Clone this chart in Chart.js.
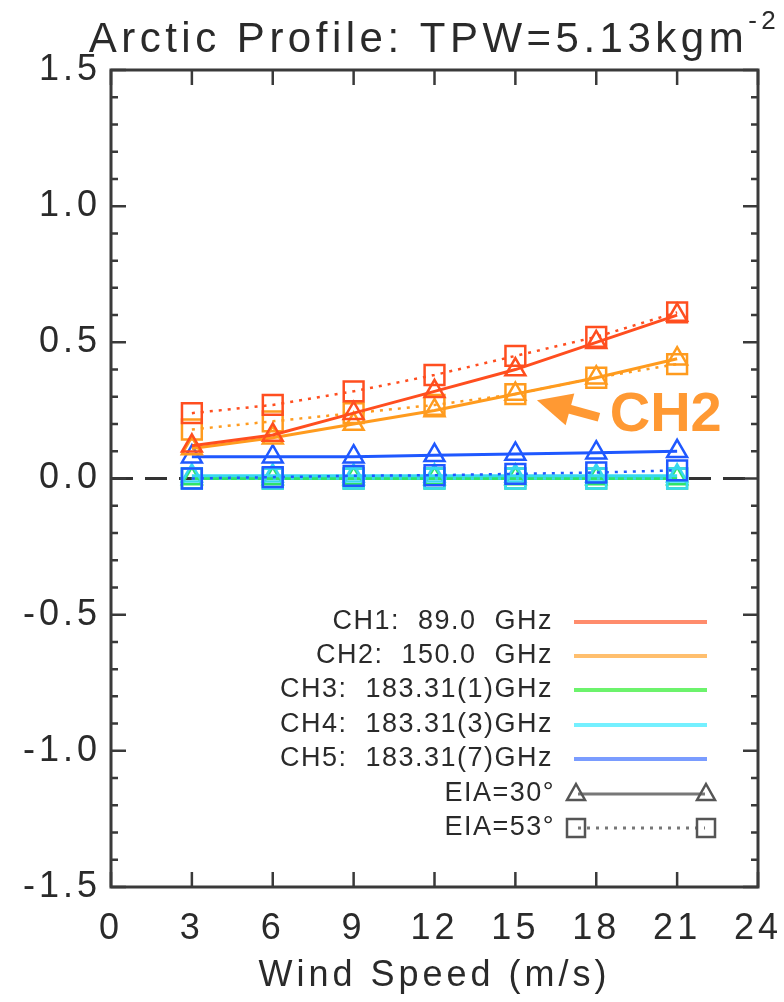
<!DOCTYPE html>
<html>
<head>
<meta charset="utf-8">
<script src="https://cdn.jsdelivr.net/npm/chart.js@4.4.0/dist/chart.umd.min.js"></script>
<style>
  html, body { margin: 0; padding: 0; background: #fff; }
  #wrap { width: 784px; height: 1002px; }
</style>
</head>
<body>
<div id="wrap"><canvas id="chart" width="784" height="1002"></canvas></div>
<script>
// wind speed (m/s) where the runs were made
const windSpeeds = [3, 6, 9, 12, 15, 18, 21];
const xTickValues = [0, 3, 6, 9, 12, 15, 18, 21, 24];

// EIA=30 deg (solid, triangles) / EIA=53 deg (dotted, squares)
const ch1Eia30 = [0.12, 0.16, 0.24, 0.32, 0.40, 0.50, 0.60];
const ch1Eia53 = [0.24, 0.27, 0.32, 0.38, 0.45, 0.52, 0.61];
const ch2Eia30 = [0.11, 0.15, 0.20, 0.25, 0.31, 0.37, 0.44];
const ch2Eia53 = [0.18, 0.21, 0.24, 0.27, 0.31, 0.37, 0.42];
const ch3Eia30 = [0.00, 0.00, 0.00, 0.00, 0.00, 0.00, 0.00];
const ch3Eia53 = [0.00, 0.00, 0.00, 0.00, 0.00, 0.00, 0.00];
const ch4Eia30 = [0.01, 0.01, 0.01, 0.01, 0.01, 0.01, 0.01];
const ch4Eia53 = [0.00, 0.00, 0.00, 0.00, 0.00, 0.00, 0.00];
const ch5Eia30 = [0.08, 0.08, 0.08, 0.085, 0.09, 0.095, 0.10];
const ch5Eia53 = [0.00, 0.005, 0.01, 0.012, 0.017, 0.022, 0.03];

const channelLabels = [
    'CH1:  89.0  GHz',
    'CH2:  150.0  GHz',
    'CH3:  183.31(1)GHz',
    'CH4:  183.31(3)GHz',
    'CH5:  183.31(7)GHz'
];
const eiaLabels = ['EIA=30°', 'EIA=53°'];

const channelColors = ['#ff4e1f', '#ff9b1e', '#2fe36a', '#38d8f0', '#1f58ff'];
const legendColors = ['#ff8c6c', '#ffbf6e', '#6cf36c', '#74f0ff', '#7a9cff'];

const TXT = '#2a2a2a';
const FONT = "'Liberation Sans', Arial, sans-serif";

document.addEventListener("DOMContentLoaded", () => {
    drawChart();
});

function points(values) {
    return windSpeeds.map((w, i) => ({ x: w, y: values[i] }));
}

function solidSet(values, color) {
    return {
        data: points(values),
        borderColor: color,
        borderWidth: 3,
        pointStyle: 'triangle',
        pointRadius: 11.5,
        pointBorderWidth: 2.5,
        pointBorderColor: color,
        pointBackgroundColor: 'rgba(255,255,255,0)',
        tension: 0
    };
}

function dottedSet(values, color) {
    return {
        data: points(values),
        borderColor: color,
        borderWidth: 2.5,
        borderDash: [3, 6],
        pointStyle: 'rect',
        pointRadius: 14,
        pointBorderWidth: 2.5,
        pointBorderColor: color,
        pointBackgroundColor: 'rgba(255,255,255,0)',
        tension: 0
    };
}

// IDL-like frame: box, inward ticks, dashed zero line
const framePlugin = {
    id: 'frame',
    beforeDraw(chart) {
        chart.ctx.letterSpacing = '4px';
    },
    beforeDatasetsDraw(chart) {
        const { ctx, chartArea: a, scales: { y } } = chart;
        ctx.letterSpacing = '0px';
        const y0 = y.getPixelForValue(0);
        ctx.save();
        ctx.strokeStyle = '#333';
        ctx.lineWidth = 3;
        ctx.setLineDash([22, 12]);
        ctx.beginPath();
        ctx.moveTo(a.left, y0);
        ctx.lineTo(a.right, y0);
        ctx.stroke();
        ctx.restore();
    },
    afterDatasetsDraw(chart) {
        const { ctx, chartArea: a, scales: { x, y } } = chart;
        ctx.save();
        ctx.strokeStyle = '#3a3a3a';
        ctx.lineWidth = 3;
        ctx.strokeRect(a.left, a.top, a.right - a.left, a.bottom - a.top);
        ctx.lineWidth = 2.5;
        ctx.beginPath();
        xTickValues.forEach(v => {
            const px = x.getPixelForValue(v);
            ctx.moveTo(px, a.bottom); ctx.lineTo(px, a.bottom - 15);
            ctx.moveTo(px, a.top); ctx.lineTo(px, a.top + 15);
        });
        for (let i = -15; i <= 15; i++) {
            const py = y.getPixelForValue(i / 10);
            const len = i % 5 === 0 ? 15 : 7;
            ctx.moveTo(a.left, py); ctx.lineTo(a.left + len, py);
            ctx.moveTo(a.right, py); ctx.lineTo(a.right - len, py);
        }
        ctx.stroke();
        ctx.restore();
    },
    afterDraw(chart) {
        const { ctx, chartArea: a, scales: { x, y } } = chart;
        ctx.save();

        // title with superscript
        const title = 'Arctic Profile: TPW=5.13kgm';
        ctx.font = `42px ${FONT}`;
        ctx.letterSpacing = '4.5px';
        ctx.fillStyle = TXT;
        ctx.textBaseline = 'alphabetic';
        const tw = ctx.measureText(title).width;
        ctx.font = `26px ${FONT}`;
        const sw = ctx.measureText('-2').width;
        const cx = (a.left + a.right) / 2;
        const tx = cx - (tw + sw) / 2;
        ctx.font = `42px ${FONT}`;
        ctx.textAlign = 'left';
        ctx.fillText(title, tx, 52);
        ctx.font = `26px ${FONT}`;
        ctx.fillText('-2', tx + tw, 29);

        // legend
        ctx.font = `27px ${FONT}`;
        ctx.letterSpacing = '1.5px';
        ctx.textAlign = 'right';
        ctx.textBaseline = 'middle';
        const rowY = [622, 656, 690, 725, 759, 794, 828];
        const lx1 = 574, lx2 = 707;
        channelLabels.forEach((label, i) => {
            ctx.fillStyle = TXT;
            ctx.fillText(label, 553, rowY[i]);
            ctx.strokeStyle = legendColors[i];
            ctx.lineWidth = 4;
            ctx.beginPath();
            ctx.moveTo(lx1, rowY[i]); ctx.lineTo(lx2, rowY[i]);
            ctx.stroke();
        });
        eiaLabels.forEach((label, j) => {
            const ry = rowY[5 + j];
            ctx.fillStyle = TXT;
            ctx.fillText(label, 555, ry);
            ctx.strokeStyle = '#777';
            ctx.lineWidth = 3;
            ctx.setLineDash(j === 0 ? [] : [3, 6]);
            ctx.beginPath();
            ctx.moveTo(lx1 + 4, ry); ctx.lineTo(lx2 - 2, ry);
            ctx.stroke();
            ctx.setLineDash([]);
            ctx.strokeStyle = '#555';
            ctx.lineWidth = 2.5;
            [lx1 + 2, lx2 - 1].forEach(mx => {
                ctx.beginPath();
                if (j === 0) {
                    ctx.moveTo(mx, ry - 10);
                    ctx.lineTo(mx + 9, ry + 6);
                    ctx.lineTo(mx - 9, ry + 6);
                    ctx.closePath();
                } else {
                    ctx.rect(mx - 9, ry - 9, 18, 18);
                }
                ctx.stroke();
            });
        });

        // CH2 annotation arrow
        const tipX = x.getPixelForValue(15.8), tipY = y.getPixelForValue(0.287);
        const tailX = x.getPixelForValue(18.1), tailY = y.getPixelForValue(0.225);
        const ang = Math.atan2(tailY - tipY, tailX - tipX);
        ctx.fillStyle = '#ff9933';
        ctx.strokeStyle = '#ff9933';
        ctx.lineWidth = 9;
        ctx.beginPath();
        ctx.moveTo(tipX + Math.cos(ang) * 25, tipY + Math.sin(ang) * 25);
        ctx.lineTo(tailX, tailY);
        ctx.stroke();
        ctx.beginPath();
        ctx.moveTo(tipX, tipY);
        ctx.lineTo(tipX + Math.cos(ang - 0.45) * 38, tipY + Math.sin(ang - 0.45) * 38);
        ctx.lineTo(tipX + Math.cos(ang + 0.45) * 38, tipY + Math.sin(ang + 0.45) * 38);
        ctx.closePath();
        ctx.fill();
        ctx.font = `bold 56px ${FONT}`;
        ctx.letterSpacing = '0px';
        ctx.textAlign = 'left';
        ctx.textBaseline = 'alphabetic';
        ctx.fillText('CH2', x.getPixelForValue(18.5), y.getPixelForValue(0.173));

        ctx.restore();
    }
};

function drawChart() {
    const datasets = [
        solidSet(ch1Eia30, channelColors[0]),
        dottedSet(ch1Eia53, channelColors[0]),
        solidSet(ch2Eia30, channelColors[1]),
        dottedSet(ch2Eia53, channelColors[1]),
        solidSet(ch5Eia30, channelColors[4]),
        dottedSet(ch5Eia53, channelColors[4]),
        solidSet(ch4Eia30, channelColors[3]),
        dottedSet(ch4Eia53, channelColors[3]),
        solidSet(ch3Eia30, channelColors[2]),
        dottedSet(ch3Eia53, channelColors[2])
    ];

    new Chart(document.getElementById('chart'), {
        type: 'line',
        data: { datasets },
        options: {
            responsive: false,
            animation: false,
            layout: { padding: { top: 70, right: 26, left: 0, bottom: 0 } },
            plugins: {
                legend: { display: false },
                tooltip: { enabled: false }
            },
            scales: {
                x: {
                    type: 'linear',
                    min: 0,
                    max: 24,
                    afterBuildTicks: s => { s.ticks = xTickValues.map(v => ({ value: v })); },
                    afterFit: s => {
                        s.height = 115;
                        s.paddingLeft = 0;
                        s.paddingRight = 0;
                    },
                    grid: { display: false, drawTicks: false },
                    border: { display: false },
                    ticks: {
                        font: { family: FONT, size: 36 },
                        color: TXT,
                        padding: 20,
                        maxRotation: 0,
                        autoSkip: false
                    },
                    title: {
                        display: true,
                        text: 'Wind Speed (m/s)',
                        font: { family: FONT, size: 36 },
                        color: TXT,
                        padding: { top: 0, bottom: 4 }
                    }
                },
                y: {
                    min: -1.5,
                    max: 1.5,
                    afterFit: s => {
                        s.width = 111;
                        s.paddingTop = 0;
                        s.paddingBottom = 0;
                    },
                    grid: { display: false, drawTicks: false },
                    border: { display: false },
                    ticks: {
                        stepSize: 0.5,
                        font: { family: FONT, size: 36 },
                        color: TXT,
                        padding: 10,
                        callback: v => v.toFixed(1)
                    }
                }
            }
        },
        plugins: [framePlugin]
    });
}
</script>
</body>
</html>
